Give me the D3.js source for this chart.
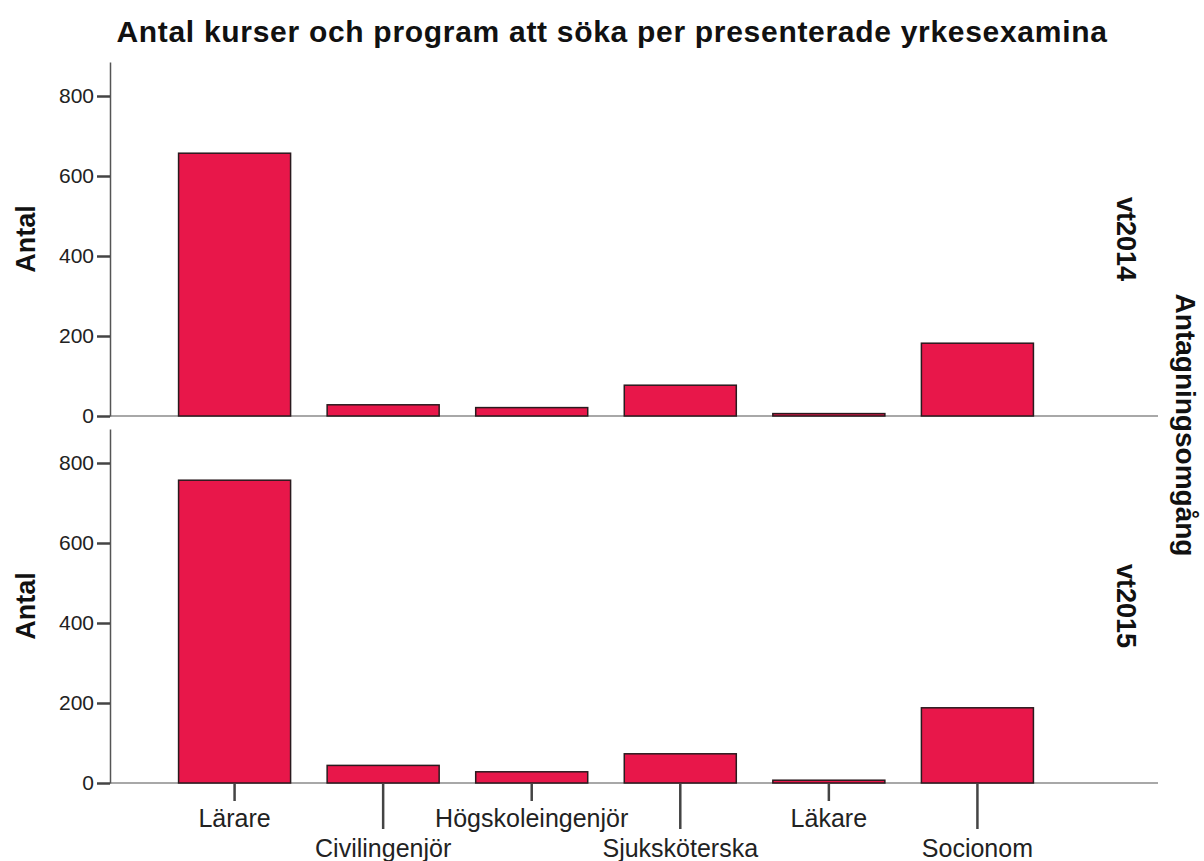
<!DOCTYPE html>
<html>
<head>
<meta charset="utf-8">
<script src="https://cdn.jsdelivr.net/npm/d3@7"></script>
<style>
  body { margin: 0; background: #fff; }
  text { font-family: "Liberation Sans", Arial, sans-serif; }
</style>
</head>
<body>
<svg width="1204" height="861"></svg>
<script>
const categories = ["Lärare", "Civilingenjör", "Högskoleingenjör", "Sjuksköterska", "Läkare", "Socionom"];
const panels = ["vt2014", "vt2015"];
const vt2014 = [657, 28, 21, 77, 6, 182];
const vt2015 = [757, 44, 28, 73, 7, 188];
const yTicks = [0, 200, 400, 600, 800];

const svg = d3.select("svg");
const left = 110, right = 1158;

const x = d3.scaleBand()
  .domain(categories)
  .range([160, 1052])
  .paddingInner(0.246)
  .paddingOuter(0.125);

const panelDefs = [
  {name: panels[0], values: vt2014, bottom: 416, top: 62},
  {name: panels[1], values: vt2015, bottom: 783, top: 429}
];

// title
svg.append("text")
  .attr("x", 612).attr("y", 42)
  .attr("text-anchor", "middle")
  .attr("font-size", 30)
  .attr("font-weight", "bold")
  .attr("letter-spacing", 0.7)
  .attr("fill", "#111")
  .text("Antal kurser och program att söka per presenterade yrkesexamina");

panelDefs.forEach(p => {
  const y = d3.scaleLinear().domain([0, 885]).range([p.bottom, p.top]);
  const g = svg.append("g");

  // baseline
  g.append("line")
    .attr("x1", left).attr("x2", right)
    .attr("y1", y(0)).attr("y2", y(0))
    .attr("stroke", "#a8a8a8").attr("stroke-width", 2);

  // bars
  g.selectAll("rect")
    .data(p.values)
    .join("rect")
    .attr("x", (d, i) => x(categories[i]))
    .attr("width", x.bandwidth())
    .attr("y", d => y(d))
    .attr("height", d => y(0) - y(d))
    .attr("fill", "#e8174a")
    .attr("stroke", "#2a1a1e")
    .attr("stroke-width", 1.5);

  // y axis
  const ax = g.append("g")
    .attr("transform", `translate(${left},0)`)
    .call(d3.axisLeft(y).tickValues(yTicks).tickSize(13).tickPadding(3).tickSizeOuter(0));
  ax.select(".domain").attr("stroke", "#555").attr("stroke-width", 1.5);
  ax.selectAll(".tick line").attr("stroke", "#444").attr("stroke-width", 2.5);
  ax.selectAll(".tick text")
    .attr("font-size", 21)
    .attr("fill", "#222")
    .style("font-family", "'Liberation Sans', Arial, sans-serif");

  // y axis title
  svg.append("text")
    .attr("transform", `translate(35,${(p.top + p.bottom) / 2}) rotate(-90)`)
    .attr("text-anchor", "middle")
    .attr("font-size", 27)
    .attr("font-weight", "bold")
    .attr("fill", "#111")
    .text("Antal");

  // panel label on the right
  svg.append("text")
    .attr("transform", `translate(1117,${(p.top + p.bottom) / 2}) rotate(90)`)
    .attr("text-anchor", "middle")
    .attr("font-size", 27)
    .attr("font-weight", "bold")
    .attr("fill", "#111")
    .text(p.name);
});

// right-hand facet title
svg.append("text")
  .attr("transform", "translate(1176,425) rotate(90)")
  .attr("text-anchor", "middle")
  .attr("font-size", 28)
  .attr("font-weight", "bold")
  .attr("fill", "#111")
  .text("Antagningsomgång");

// category axis, staggered labels
const catG = svg.append("g");
catG.selectAll("line")
  .data(categories)
  .join("line")
  .attr("x1", d => x(d) + x.bandwidth() / 2)
  .attr("x2", d => x(d) + x.bandwidth() / 2)
  .attr("y1", 784)
  .attr("y2", (d, i) => i % 2 ? 829 : 801)
  .attr("stroke", "#444")
  .attr("stroke-width", 2.5);

catG.selectAll("text")
  .data(categories)
  .join("text")
  .attr("x", d => x(d) + x.bandwidth() / 2)
  .attr("y", (d, i) => i % 2 ? 857 : 827)
  .attr("text-anchor", "middle")
  .attr("font-size", 25)
  .attr("fill", "#222")
  .text(d => d);
</script>
</body>
</html>
